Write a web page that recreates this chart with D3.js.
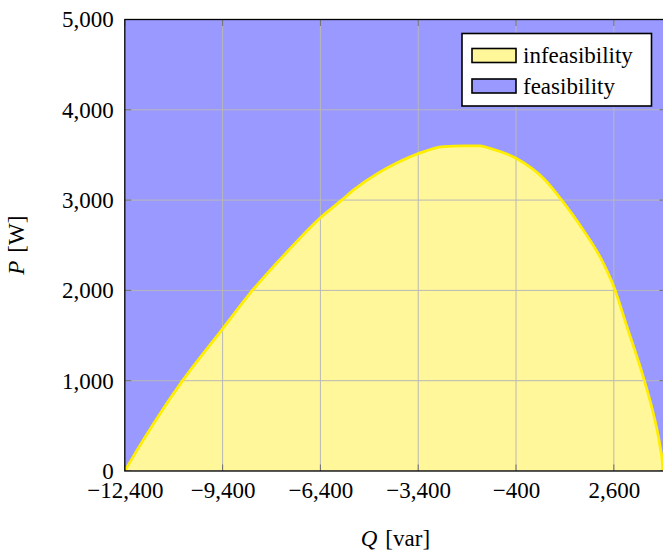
<!DOCTYPE html>
<html><head><meta charset="utf-8">
<script src="https://cdn.jsdelivr.net/npm/d3@7"></script>
<style>body{margin:0;background:#fff} svg{display:block} text{font-family:"Liberation Serif","DejaVu Serif",serif}</style>
</head><body><svg id="c" width="663" height="557"></svg>
<script>
// Boundary between infeasible (below) and feasible (above) region
const qValues = [-12400, -12000, -11500, -10650, -9400, -8560, -8000, -7440, -6400, -5750, -5390, -4670, -4060, -3400, -2630, -2000, -1500, -1200, -400, 490, 1000, 1660, 2280, 2600, 3000, 3500, 3810, 4020, 4090, 4100];
const pValues = [0, 245, 535, 990, 1575, 1968, 2200, 2420, 2805, 3000, 3110, 3290, 3410, 3514, 3592, 3600, 3600, 3573, 3463, 3223, 3000, 2669, 2300, 2041, 1600, 1044, 639, 269, 85, 0];
const xTicks = [-12400, -9400, -6400, -3400, -400, 2600];
const yTicks = [0, 1000, 2000, 3000, 4000, 5000];
const legendLabels = ["infeasibility", "feasibility"];
const xDomain = [-12400, 4200];
const yDomain = [0, 5000];

const svg = d3.select("#c");
const L = 124.8, R = 666, T = 19.5, B = 471;
const x = d3.scaleLinear().domain(xDomain).range([L, R]);
const y = d3.scaleLinear().domain(yDomain).range([B, T]);
const fs = 23;
const blue = "#9999ff", yellowFill = "#fff799", yellowLine = "#ffee00";

const pts = qValues.map((q, i) => [q, pValues[i]]);

svg.append("defs").append("clipPath").attr("id", "clip")
  .append("rect").attr("x", L).attr("y", T).attr("width", R - L).attr("height", B - T);

const g = svg.append("g").attr("clip-path", "url(#clip)");
g.append("rect").attr("x", L).attr("y", T).attr("width", R - L).attr("height", B - T).attr("fill", blue);

g.append("path").datum(pts)
  .attr("fill", yellowFill)
  .attr("d", d3.area().curve(d3.curveMonotoneX).x(d => x(d[0])).y0(y(0)).y1(d => y(d[1])));

// grid
g.selectAll(".gx").data(xTicks).join("line")
  .attr("x1", d => x(d)).attr("x2", d => x(d)).attr("y1", T).attr("y2", B)
  .attr("stroke", "#b8b8b8").attr("stroke-width", 1);
g.selectAll(".gy").data(yTicks).join("line")
  .attr("x1", L).attr("x2", R).attr("y1", d => y(d)).attr("y2", d => y(d))
  .attr("stroke", "#b8b8b8").attr("stroke-width", 1);

g.append("path").datum(pts)
  .attr("fill", "none").attr("stroke", yellowLine).attr("stroke-width", 2.8)
  .attr("stroke-linejoin", "round")
  .attr("d", d3.line().curve(d3.curveMonotoneX).x(d => x(d[0])).y(d => y(d[1])));

// tick marks (inside)
const tl = 6.5;
g.selectAll(".tb").data(xTicks).join("line")
  .attr("x1", d => x(d)).attr("x2", d => x(d)).attr("y1", B).attr("y2", B - tl)
  .attr("stroke", "#707070").attr("stroke-width", 1);
g.selectAll(".tt").data(xTicks).join("line")
  .attr("x1", d => x(d)).attr("x2", d => x(d)).attr("y1", T).attr("y2", T + tl)
  .attr("stroke", "#707070").attr("stroke-width", 1);
g.selectAll(".tl").data(yTicks).join("line")
  .attr("x1", L).attr("x2", L + tl).attr("y1", d => y(d)).attr("y2", d => y(d))
  .attr("stroke", "#707070").attr("stroke-width", 1);
g.selectAll(".tr").data(yTicks).join("line")
  .attr("x1", R).attr("x2", R - tl).attr("y1", d => y(d)).attr("y2", d => y(d))
  .attr("stroke", "#707070").attr("stroke-width", 1);

// frame
svg.append("rect").attr("x", L).attr("y", T).attr("width", R - L).attr("height", B - T)
  .attr("fill", "none").attr("stroke", "#000").attr("stroke-width", 1.3);

// tick labels
const fmt = d3.format(",");
const xAxis = svg.append("g").attr("transform", `translate(0,${B})`)
  .call(d3.axisBottom(x).tickValues(xTicks).tickFormat(fmt).tickSize(0).tickPadding(6));
const yAxis = svg.append("g").attr("transform", `translate(${L},0)`)
  .call(d3.axisLeft(y).tickValues(yTicks).tickFormat(fmt).tickSize(0).tickPadding(11));
[xAxis, yAxis].forEach(a => {
  a.select(".domain").remove();
  a.attr("font-family", null).attr("font-size", null);
  a.selectAll("text").attr("font-size", fs).attr("fill", "#000");
});
xAxis.selectAll("text").attr("dy", "0.9em");

// axis titles
const xt = svg.append("text").attr("x", (L + R) / 2).attr("y", 546)
  .attr("text-anchor", "middle").attr("font-size", fs);
xt.append("tspan").attr("font-style", "italic").text("Q");
xt.append("tspan").attr("dx", 8).text("[var]");

const yt = svg.append("text").attr("transform", `translate(24,${(T + B) / 2}) rotate(-90)`)
  .attr("text-anchor", "middle").attr("font-size", fs);
yt.append("tspan").attr("font-style", "italic").text("P");
yt.append("tspan").attr("dx", 8).text("[W]");

// legend
const lg = svg.append("g");
lg.append("rect").attr("x", 462).attr("y", 33.5).attr("width", 189.5).attr("height", 72.5)
  .attr("fill", "#fff").attr("stroke", "#000").attr("stroke-width", 1.6);
const ly = d3.scalePoint().domain(legendLabels).range([55.5, 86]);
const lfill = {"infeasibility": yellowFill, "feasibility": blue};
lg.selectAll(".sw").data(legendLabels).join("rect")
  .attr("x", 472).attr("y", d => ly(d) - 7).attr("width", 44).attr("height", 14)
  .attr("fill", d => lfill[d]).attr("stroke", "#000").attr("stroke-width", 1.6);
lg.selectAll(".lt").data(legendLabels).join("text")
  .attr("x", 523).attr("y", d => ly(d)).attr("dy", "0.33em")
  .attr("font-size", fs).text(d => d);
</script>
</body></html>
